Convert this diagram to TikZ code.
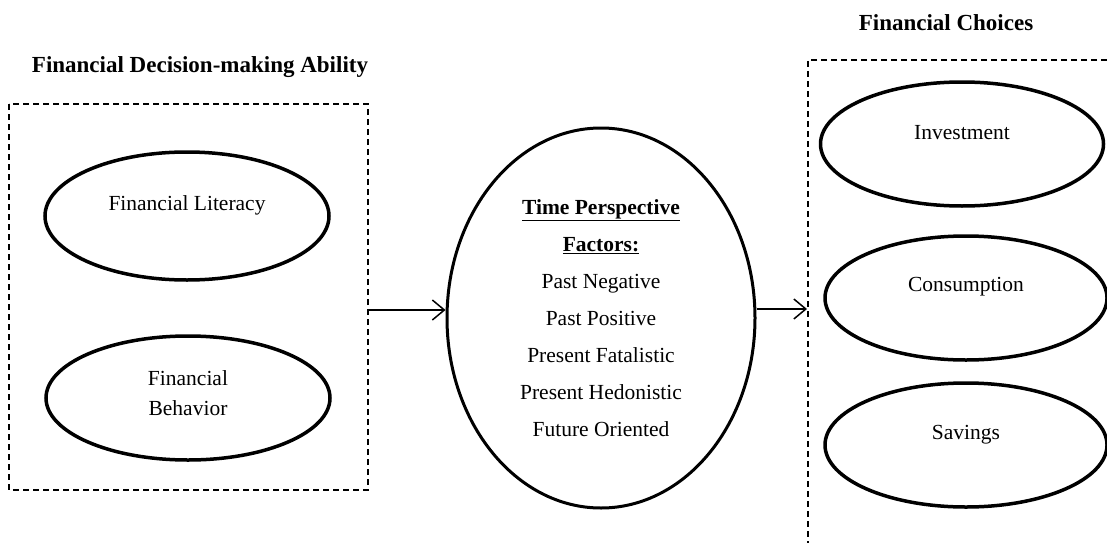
\documentclass[tikz,border=0pt]{standalone}
\usepackage{fontspec}
\setmainfont{Liberation Serif}
\usetikzlibrary{shapes.geometric}
\usetikzlibrary{arrows.meta}

\begin{document}
\begin{tikzpicture}[x=1pt, y=-1pt,
    oval/.style={ellipse, draw, line width=3.5pt, inner sep=0pt, minimum width=284pt, minimum height=124pt},
    txt/.style={align=center, font=\fontsize{21.5}{30}\selectfont},
    dashbox/.style={dash pattern=on 6pt off 4pt, line width=1.2pt},
    flow/.style={-{Straight Barb[length=12pt,width=20pt]}, line width=1.5pt},
    heading/.style={font=\fontsize{23}{27}\selectfont\bfseries}]
    \useasboundingbox (0,0) rectangle (1107,543);

    % Decision-making ability
    \draw[dashbox] (9,104) rectangle (368,490);
    \node[heading] (abilitytitle) at (200,67) {Financial Decision-making Ability};
    \node[oval, minimum height=128pt] (literacy) at (187,216) {};
    \node[txt] (literacytext) at ([yshift=11pt]literacy.center) {Financial Literacy};
    \node[oval] (behavior) at (188,398) {};
    \node[txt] (behaviortext) at ([yshift=5pt]behavior.center) {Financial\\Behavior};

    % Time perspective
    \node[oval, line width=3pt, minimum width=308pt, minimum height=380pt, align=center,
          font=\fontsize{21.5}{37}\selectfont] (factors) at (601,318)
          {\textbf{\underline{Time Perspective}}\\ \textbf{\underline{Factors:}}\\
           Past Negative\\ Past Positive\\ Present Fatalistic\\
           Present Hedonistic\\ Future Oriented};

    % Financial choices
    \draw[dashbox] (1107,60) -- (808,60) -- (808,543);
    \node[heading] (choicestitle) at (946,23) {Financial Choices};
    \node[oval, minimum width=283pt] (invest) at (962,144) {};
    \node[txt] (investtext) at ([yshift=11pt]invest.center) {Investment};
    \node[oval, minimum width=282pt] (consume) at (966,298) {};
    \node[txt] (consumetext) at ([yshift=11pt]consume.center) {Consumption};
    \node[oval, minimum width=282pt] (save) at (966,445) {};
    \node[txt] (savetext) at ([yshift=10pt]save.center) {Savings};

    % Arrows
    \coordinate (abilityout) at (368,310);
    \coordinate (choicesin) at (807,309);
    \draw[flow] (abilityout) -- (abilityout -| factors.west);
    \draw[flow] (choicesin -| factors.east) -- (choicesin);
\end{tikzpicture}
\end{document}
